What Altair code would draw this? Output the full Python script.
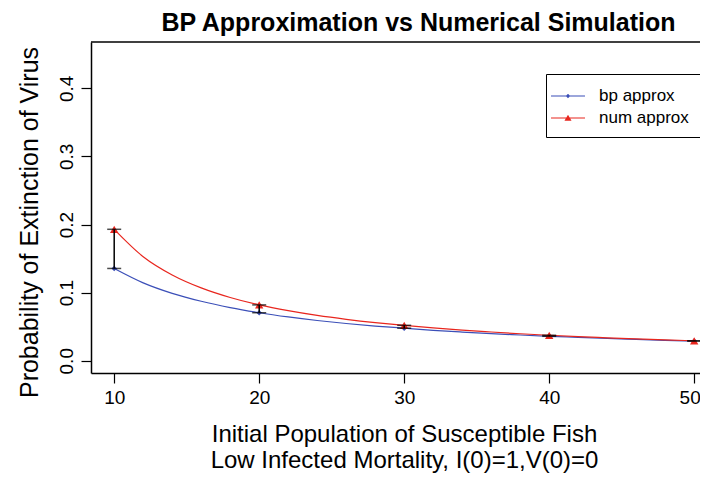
import altair as alt
import pandas as pd

# ---- data ----
series = ["bp approx", "num approx"]
colors = ["#3B4FB8", "#E8261E"]

N_curve = [10, 12, 14, 16, 18, 20, 22, 24, 26, 28, 30, 32, 34, 36, 38, 40, 42, 44, 46, 48, 50]
bp_curve = [0.1355, 0.1144, 0.0990, 0.0873, 0.0780, 0.0705, 0.0643, 0.0591, 0.0547, 0.0509,
            0.0478, 0.0447, 0.0421, 0.0398, 0.0378, 0.0359, 0.0343, 0.0327, 0.0313, 0.0300, 0.0289]
num_curve = [0.1930, 0.1528, 0.1260, 0.1070, 0.0929, 0.0820, 0.0735, 0.0665, 0.0608, 0.0560,
             0.0520, 0.0483, 0.0450, 0.0422, 0.0396, 0.0374, 0.0354, 0.0337, 0.0321, 0.0306, 0.0293]

N_pts = [10, 20, 30, 40, 50]
bp_pts = [0.1355, 0.0705, 0.0478, 0.0359, 0.0289]
num_pts = [0.1930, 0.0820, 0.0520, 0.0374, 0.0293]

x_ticks = [10, 20, 30, 40, 50]
y_ticks = [0.0, 0.1, 0.2, 0.3, 0.4]

title_text = "BP Approximation vs Numerical Simulation"
x_title = ["Initial Population of Susceptible Fish", "Low Infected Mortality, I(0)=1,V(0)=0"]
y_title = "Probability of Extinction of Virus"

# ---- tables ----
curve_df = pd.DataFrame({
    "N": N_curve * 2,
    "p": bp_curve + num_curve,
    "series": [series[0]] * len(N_curve) + [series[1]] * len(N_curve),
})
pts_df = pd.DataFrame({
    "N": N_pts * 2,
    "p": bp_pts + num_pts,
    "series": [series[0]] * len(N_pts) + [series[1]] * len(N_pts),
})
err_df = pd.DataFrame({"N": N_pts, "p": bp_pts, "hi": num_pts})

W, H = 609, 331
FONT = "Liberation Sans"

xscale = alt.Scale(domain=[8.4, 50.4], nice=False, zero=False)
yscale = alt.Scale(domain=[-0.018, 0.468], nice=False, zero=False)
color_scale = alt.Scale(domain=series, range=colors)

xaxis = alt.Axis(values=x_ticks, format="d", title=x_title, grid=False,
                 labelFontSize=19, labelPadding=5, labelFont=FONT, labelColor="black",
                 labelFlush=10, labelFlushOffset=6,
                 tickSize=10, tickColor="black", tickWidth=1.2,
                 domainColor="black", domainWidth=1.5,
                 titleFontSize=24, titleFontWeight="normal", titleFont=FONT, titleColor="black",
                 titleLineHeight=26, titlePadding=15, titleX=313)
yaxis = alt.Axis(values=y_ticks, format=".1f", title=y_title, grid=False,
                 labelFontSize=19, labelPadding=5, labelFont=FONT, labelColor="black",
                 labelAngle=270, labelAlign="center", labelBaseline="bottom",
                 tickSize=10, tickColor="black", tickWidth=1.2,
                 domainColor="black", domainWidth=1.5,
                 titleFontSize=25, titleFontWeight="normal", titleFont=FONT, titleColor="black",
                 titlePadding=15, titleY=180)

# legend glyphs: a thin filled bar (the line) plus the marker, all filled
legend_paths = [
    "M-1.545,-0.05L1.545,-0.05L1.545,0.05L-1.545,0.05Z M0,-0.2L0.2,0L0,0.2L-0.2,0Z",
    "M-1.545,-0.05L1.545,-0.05L1.545,0.05L-1.545,0.05Z M-0.32,0.25L0,-0.3L0.32,0.25Z",
]

legend = alt.Legend(
    title=None, orient="none", legendX=455, legendY=32,
    strokeColor="black", fillColor="white", padding=11,
    symbolSize=484, symbolOffset=0, labelOffset=20, rowPadding=3,
    labelFontSize=17, labelFont=FONT, labelColor="black",
    symbolStrokeWidth=0, symbolOpacity=1,
)

X = alt.X("N:Q", scale=xscale)
Y = alt.Y("p:Q", scale=yscale)
C = alt.Color("series:N", scale=color_scale)

lines = alt.Chart(curve_df).mark_line(strokeWidth=1.2, interpolate="monotone").encode(
    x=alt.X("N:Q", scale=xscale, axis=xaxis),
    y=alt.Y("p:Q", scale=yscale, axis=yaxis),
    color=C,
    detail="series:N",
)

# layer without drawn marks that only provides the legend (line + marker symbols)
legend_layer = alt.Chart(pts_df).transform_filter("false").mark_point(filled=True).encode(
    x=X, y=Y,
    color=alt.Color("series:N", scale=color_scale, legend=legend),
    shape=alt.Shape("series:N", scale=alt.Scale(domain=series, range=legend_paths), legend=legend),
)

bp_points = alt.Chart(pts_df).transform_filter(alt.datum.series == series[0]).mark_point(
    filled=True, opacity=1, shape="diamond", size=30).encode(x=X, y=Y, color=C)
num_points = alt.Chart(pts_df).transform_filter(alt.datum.series == series[1]).mark_point(
    filled=True, opacity=1, shape="triangle-up", size=70).encode(x=X, y=Y, color=C)

bars = alt.Chart(err_df).mark_rule(color="black", strokeWidth=1.5).encode(
    x=X, y=Y, y2="hi:Q",
)
cap_lo = alt.Chart(err_df).mark_tick(color="black", orient="horizontal", size=14, thickness=1.5).encode(
    x=X, y=Y,
)
cap_hi = alt.Chart(err_df).mark_tick(color="black", orient="horizontal", size=14, thickness=1.5).encode(
    x=X, y=alt.Y("hi:Q", scale=yscale),
)

frame_top = alt.Chart(pd.DataFrame({"k": [0]})).mark_rule(color="black", strokeWidth=1.5).encode(
    x=alt.value(0), x2=alt.value(W), y=alt.value(0)
)

chart = alt.layer(lines, legend_layer, bp_points, num_points, bars, cap_lo, cap_hi, frame_top).properties(
    width=W, height=H,
    background="white",
    autosize=alt.AutoSizeParams(type="none"),
    padding={"left": 83, "top": 34, "right": 0, "bottom": 101},
    title=alt.TitleParams(text=title_text, fontSize=25, fontWeight="bold", font=FONT,
                          color="black", anchor="middle", dx=23, offset=5),
).configure_view(stroke=None)

chart.save("out.html", embed_options={"renderer": "svg", "actions": False})
